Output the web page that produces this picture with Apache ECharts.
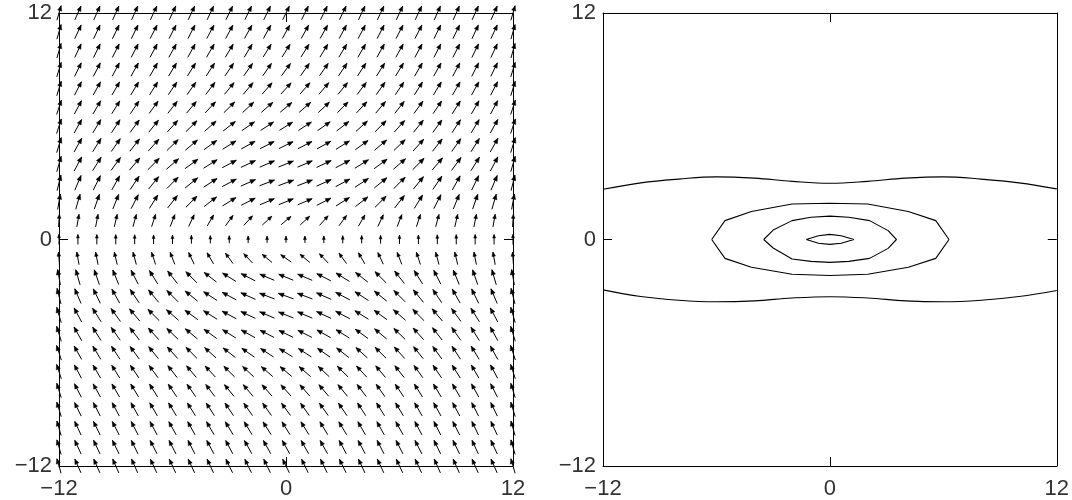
<!DOCTYPE html>
<html>
<head>
<meta charset="utf-8">
<script src="https://cdn.jsdelivr.net/npm/echarts@6/dist/echarts.min.js"></script>
<style>
  html, body { margin: 0; background: #fff; }
  #chart { width: 1072px; height: 500px; }
</style>
</head>
<body>
<div id="chart"></div>
<script>
// grid of the vector field (left panel)
const gridX = [-12,-11,-10,-9,-8,-7,-6,-5,-4,-3,-2,-1,0,1,2,3,4,5,6,7,8,9,10,11,12];
const gridY = [12,11,10,9,8,7,6,5,4,3,2,1,0,-1,-2,-3,-4,-5,-6,-7,-8,-9,-10,-11,-12];

// arrow direction in degrees (0 = pointing right, 90 = pointing up), one row per gridY
const angleRows = [
  [74,66,66,66,66,65,65,65,65,64,64,64,64,64,64,64,65,65,65,65,66,66,66,66,74],
  [74,65,65,64,64,63,63,63,62,62,61,61,61,61,61,62,62,63,63,63,64,64,65,65,74],
  [74,65,64,63,63,62,61,61,60,59,59,58,58,58,59,59,60,61,61,62,63,63,64,65,74],
  [73,64,63,62,61,60,59,58,57,56,55,55,54,55,55,56,57,58,59,60,61,62,63,64,73],
  [73,63,61,60,59,58,56,55,53,51,50,49,48,49,50,51,53,55,56,58,59,60,61,63,73],
  [72,62,60,58,56,54,52,50,47,45,43,41,40,41,43,45,47,50,52,54,56,58,60,62,72],
  [72,61,59,57,54,51,48,45,42,38,35,33,32,33,35,38,42,45,48,51,54,57,59,61,72],
  [73,61,58,55,52,48,44,40,36,32,29,27,26,27,29,32,36,40,44,48,52,55,58,61,73],
  [74,62,58,54,50,45,41,36,32,28,25,23,22,23,25,28,32,36,41,45,50,54,58,62,74],
  [76,67,64,61,56,51,45,39,33,28,24,21,20,21,24,28,33,39,45,51,56,61,64,67,76],
  [80,74,71,68,63,58,52,45,38,32,27,23,22,23,27,32,38,45,52,58,63,68,71,74,80],
  [86,80,79,77,75,72,69,65,60,54,48,43,40,43,48,54,60,65,69,72,75,77,79,80,86],
  [90,90,90,90,90,90,90,90,90,90,90,90,90,90,90,90,90,90,90,90,90,90,90,90,90],
  [94,100,101,103,105,108,111,115,120,126,133,140,145,140,133,126,120,115,111,108,105,103,101,100,94],
  [100,106,109,112,117,122,128,135,142,148,153,157,158,157,153,148,142,135,128,122,117,112,109,106,100],
  [104,113,116,119,124,129,135,141,147,152,156,159,160,159,156,152,147,141,135,129,124,119,116,113,104],
  [106,118,122,126,130,135,139,144,148,152,155,157,158,157,155,152,148,144,139,135,130,126,122,118,106],
  [107,119,122,125,128,132,136,140,144,148,151,153,154,153,151,148,144,140,136,132,128,125,122,119,107],
  [108,119,121,123,126,129,132,135,138,142,145,147,148,147,145,142,138,135,132,129,126,123,121,119,108],
  [108,118,120,122,124,126,128,130,133,135,137,139,140,139,137,135,133,130,128,126,124,122,120,118,108],
  [107,117,119,120,121,122,124,125,127,129,130,131,132,131,130,129,127,125,124,122,121,120,119,117,107],
  [107,116,117,118,119,120,121,122,123,124,125,125,126,125,125,124,123,122,121,120,119,118,117,116,107],
  [106,115,116,117,117,118,119,119,120,121,121,122,122,122,121,121,120,119,119,118,117,117,116,115,106],
  [106,115,115,116,116,117,117,117,118,118,119,119,119,119,119,118,118,117,117,117,116,116,115,115,106],
  [106,114,114,114,114,115,115,115,115,116,116,116,116,116,116,116,115,115,115,115,114,114,114,114,106]
];

// relative arrow length per row; the y = 0 row varies along x
const rowMag = [1,1,1,1,1,1,1.02,1.04,1.06,1.06,1.04,0.85,null,0.85,1.04,1.06,1.06,1.04,1.02,1,1,1,1,1,1];
const axisRowMag = [0.68,0.66,0.65,0.64,0.62,0.6,0.58,0.55,0.52,0.5,0.47,0.45,0.44,0.45,0.47,0.5,0.52,0.55,0.58,0.6,0.62,0.64,0.65,0.66,0.68];

// contour lines (right panel)
const contourUpper = [[-12,2.66],[-10,3.0],[-8,3.2],[-6,3.32],[-4,3.25],[-2,3.08],[0,2.98],[2,3.08],[4,3.25],[6,3.32],[8,3.2],[10,3.0],[12,2.68]];
const contourLower = [[-12,-2.67],[-10,-3.02],[-8,-3.22],[-6,-3.3],[-4,-3.25],[-2,-3.1],[0,-3.03],[2,-3.1],[4,-3.25],[6,-3.3],[8,-3.22],[10,-3.02],[12,-2.7]];
const contourRing3 = [[-6.25,0],[-5.55,1.0],[-4.15,1.48],[-2,1.88],[0,1.92],[2,1.88],[4.15,1.48],[5.6,1.0],[6.3,0],[5.6,-1.0],[4.15,-1.47],[2,-1.84],[0,-1.91],[-2,-1.84],[-4.15,-1.47],[-5.55,-1.0],[-6.25,0]];
const contourRing2 = [[-3.5,0],[-3.0,0.5],[-2.0,1.0],[-1,1.18],[0,1.24],[1,1.18],[2.1,1.0],[3.08,0.47],[3.52,0],[3.08,-0.47],[2.1,-1.0],[1,-1.16],[0,-1.21],[-1,-1.16],[-2.0,-1.03],[-3.0,-0.45],[-3.5,0]];
const contourRing1 = [[-1.25,0],[-0.6,0.2],[0,0.27],[0.6,0.2],[1.27,0],[0.6,-0.2],[0,-0.26],[-0.6,-0.2],[-1.25,0]];

const tickValues = [-12, 0, 12];

const ARROW_UNITS = 0.8;   // data units for an arrow of relative length 1
const INK = '#000';
const FONT = 'Liberation Sans';

let vectors = [];
for (let r = 0; r < gridY.length; r++) {
  for (let c = 0; c < gridX.length; c++) {
    let m = rowMag[r] === null ? axisRowMag[c] : rowMag[r];
    vectors.push([gridX[c], gridY[r], angleRows[r][c], m]);
  }
}

function fmt(v) {
  return v < 0 ? '\u2212' + Math.abs(v) : String(v);
}

function makeX(gridIndex, pos) {
  return {
    type: 'value', gridIndex: gridIndex, position: pos,
    min: tickValues[0], max: tickValues[2], interval: 12,
    axisLine: { show: true, onZero: false, lineStyle: { color: INK, width: 1 } },
    axisTick: { show: true, inside: true, length: 9, lineStyle: { color: INK } },
    axisLabel: { show: pos === 'bottom', formatter: fmt, fontFamily: FONT, fontSize: 22, color: '#333', margin: 12 },
    splitLine: { show: false }
  };
}
function makeY(gridIndex, pos) {
  return {
    type: 'value', gridIndex: gridIndex, position: pos,
    min: tickValues[0], max: tickValues[2], interval: 12,
    axisLine: { show: true, onZero: false, lineStyle: { color: INK, width: 1 } },
    axisTick: { show: true, inside: true, length: 9, lineStyle: { color: INK } },
    axisLabel: { show: pos === 'left', formatter: fmt, fontFamily: FONT, fontSize: 22, color: '#333', margin: 7 },
    splitLine: { show: false }
  };
}

function renderArrow(params, api) {
  const x = api.value(0), y = api.value(1);
  const a = api.value(2) * Math.PI / 180;
  const half = api.value(3) * ARROW_UNITS / 2;
  const dx = Math.cos(a) * half, dy = Math.sin(a) * half;
  const p0 = api.coord([x - dx, y - dy]);
  const p1 = api.coord([x + dx, y + dy]);
  const vx = p1[0] - p0[0], vy = p1[1] - p0[1];
  const len = Math.sqrt(vx * vx + vy * vy);
  const ux = vx / len, uy = vy / len;
  const hl = Math.max(3.5, len * 0.33), hw = hl * 0.42;
  const bx = p1[0] - ux * hl, by = p1[1] - uy * hl;
  return {
    type: 'group',
    children: [
      { type: 'line', shape: { x1: p0[0], y1: p0[1], x2: p1[0], y2: p1[1] },
        style: { stroke: INK, lineWidth: 1 } },
      { type: 'polygon', shape: { points: [[p1[0], p1[1]], [bx - uy * hw, by + ux * hw], [bx + uy * hw, by - ux * hw]] },
        style: { fill: INK, stroke: INK, lineWidth: 0.5 } }
    ]
  };
}

function contourSeries(data, smooth) {
  return {
    type: 'line', xAxisIndex: 2, yAxisIndex: 2, data: data,
    showSymbol: false, smooth: smooth, silent: true,
    lineStyle: { color: INK, width: 1.1 }
  };
}

const chart = echarts.init(document.getElementById('chart'));
chart.setOption({
  animation: false,
  backgroundColor: '#fff',
  grid: [
    { left: 59, top: 13, width: 454, height: 453 },
    { left: 603, top: 13, width: 454, height: 453 }
  ],
  xAxis: [makeX(0, 'bottom'), makeX(0, 'top'), makeX(1, 'bottom'), makeX(1, 'top')],
  yAxis: [makeY(0, 'left'), makeY(0, 'right'), makeY(1, 'left'), makeY(1, 'right')],
  series: [
    {
      type: 'custom', xAxisIndex: 0, yAxisIndex: 0, clip: false, silent: true,
      data: vectors, renderItem: renderArrow
    },
    contourSeries(contourUpper, 0.4),
    contourSeries(contourLower, 0.4),
    contourSeries(contourRing3, false),
    contourSeries(contourRing2, false),
    contourSeries(contourRing1, false)
  ]
});
</script>
</body>
</html>
